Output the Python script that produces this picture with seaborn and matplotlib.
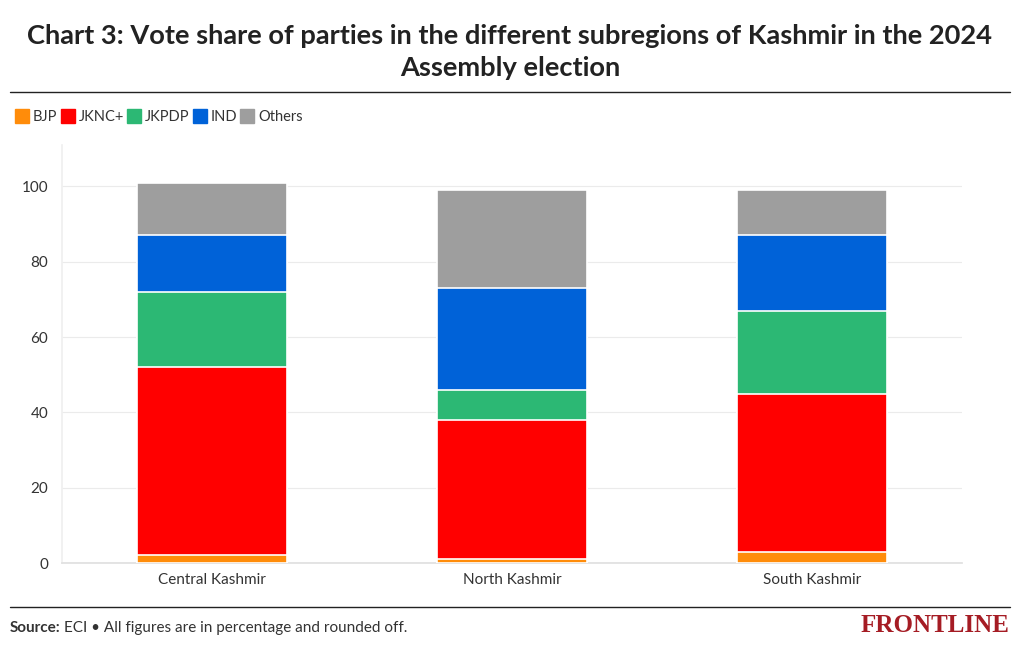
import matplotlib
matplotlib.use("Agg")
import matplotlib.pyplot as plt
import seaborn as sns
import pandas as pd
import numpy as np
from matplotlib.lines import Line2D

regions = ["Central Kashmir", "North Kashmir", "South Kashmir"]
parties = ["BJP", "JKNC+", "JKPDP", "IND", "Others"]
bjp = [2, 1, 3]
jknc = [50, 37, 42]
jkpdp = [20, 8, 22]
ind = [15, 27, 20]
others = [14, 26, 12]
colors = ["#ff8c0a", "#ff0000", "#2cb874", "#0062d8", "#9e9e9e"]
yticks = [0, 20, 40, 60, 80, 100]

sns.set_theme(style="white")
plt.rcParams["font.family"] = ["Lato", "DejaVu Sans"]

series = [bjp, jknc, jkpdp, ind, others]
cum = np.cumsum(np.array(series), axis=0)
rows = []
for pi, p in enumerate(parties):
    for ri, r in enumerate(regions):
        rows.append({"region": r, "party": p, "top": cum[pi, ri]})
df = pd.DataFrame(rows)

fig = plt.figure(figsize=(10.2, 6.5), dpi=100)
ax = fig.add_axes([0.0608, 0.1338, 0.8824, 0.6433])

for pi in range(len(parties) - 1, -1, -1):
    sub = df[df["party"] == parties[pi]]
    sns.barplot(data=sub, x="region", y="top", order=regions, color=colors[pi],
                width=0.5, edgecolor="white", linewidth=1.2, saturation=1, ax=ax, zorder=3)

ax.set_ylim(0, 111)
ax.set_xlim(-0.5, 2.5)
ax.set_yticks(yticks)
ax.set_yticklabels([str(t) for t in yticks], fontsize=11, color="#333333")
ax.tick_params(axis="x", labelsize=11, colors="#333333", length=4, color="#dddddd")
ax.tick_params(axis="y", length=0, pad=10)
for lab in ax.get_xticklabels():
    lab.set_color("#333333")
ax.set_xlabel("")
ax.set_ylabel("")
ax.grid(axis="y", color="#ebebeb", linewidth=0.8, zorder=0)
for s in ["top", "right"]:
    ax.spines[s].set_visible(False)
ax.spines["left"].set_color("#f0f0f0")
ax.spines["bottom"].set_color("#e0e0e0")

fig.text(0.5, 0.92, "Chart 3: Vote share of parties in the different subregions of Kashmir in the 2024\nAssembly election",
         ha="center", va="center", fontsize=19.6, fontweight="bold", color="#222222", linespacing=1.4)
fig.add_artist(Line2D([0.0098, 0.9902], [0.858, 0.858], color="#222222", linewidth=1))
fig.add_artist(Line2D([0.0098, 0.9902], [0.066, 0.066], color="#222222", linewidth=1))

handles = [Line2D([0], [0], marker="s", linestyle="", markersize=10, markerfacecolor=c,
                  markeredgecolor=c) for c in colors]
fig.legend(handles, parties, loc="center left", bbox_to_anchor=(0.003, 0.8195), ncol=5,
           frameon=False, fontsize=10.5, handletextpad=0.35, columnspacing=0.3,
           labelcolor="#333333", handlelength=0.8)

fig.text(0.0098, 0.034, "Source:", fontsize=11, fontweight="bold", color="#333333", va="center")
fig.text(0.063, 0.034, "ECI • All figures are in percentage and rounded off.", fontsize=11,
         color="#333333", va="center")
fig.text(0.99, 0.037, "FRONTLINE", fontsize=18, color="#a51c24", ha="right", va="center",
         fontweight="bold", family=["Liberation Serif", "DejaVu Serif"])

fig.savefig("out.png", dpi=100)
